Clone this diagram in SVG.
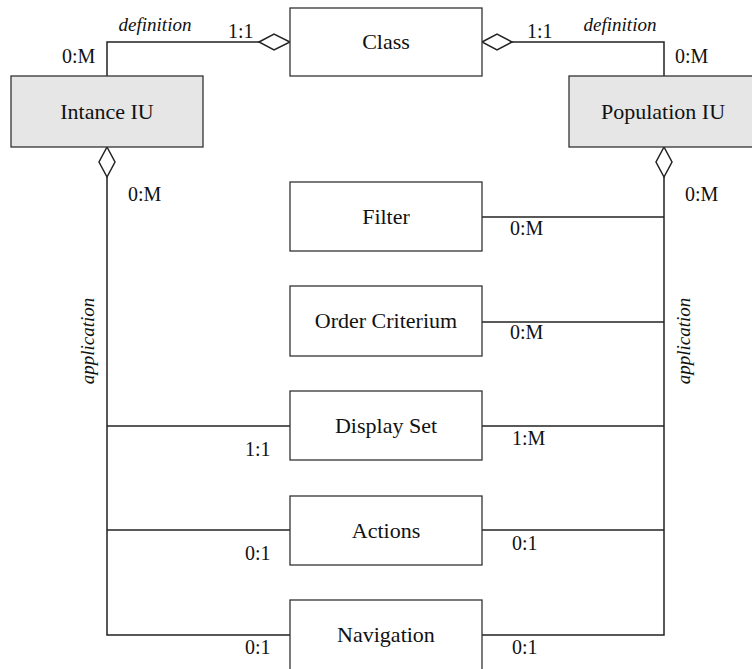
<svg xmlns="http://www.w3.org/2000/svg" width="752" height="669" viewBox="0 0 752 669">
<style>
.box{fill:#fff;stroke:#333;stroke-width:1.3}
.iu{fill:#e6e6e6;stroke:#333;stroke-width:1.3}
.lbl{font-size:22px;fill:#111;text-anchor:middle}
.card{font-size:20px;fill:#111}
.role{font-size:19px;font-style:italic;fill:#111;text-anchor:middle}
.ln{fill:none;stroke:#222;stroke-width:1.5}
.dia{fill:#fff;stroke:#222;stroke-width:1.5}
</style>
<rect width="752" height="669" fill="#fff"/>
<g font-family="Liberation Serif, Tinos, Noto Serif, DejaVu Serif, FreeSerif, Nimbus Roman, Times New Roman, serif">
<g id="connectors">
<polyline class="ln" points="107,76 107,42 259,42"/>
<polygon class="dia" points="259,42 274,34 290,42 274,50"/>
<polyline class="ln" points="664,76 664,42 512,42"/>
<polygon class="dia" points="482,42 497,34 512,42 497,50"/>
<polygon class="dia" points="107,147 115,162 107,177 99,162"/>
<polygon class="dia" points="664,147 672,162 664,177 656,162"/>
<polyline class="ln" points="107,177 107,635 290,635"/>
<polyline class="ln" points="664,177 664,635 482,635"/>
<line class="ln" x1="107" y1="426" x2="290" y2="426"/>
<line class="ln" x1="107" y1="530" x2="290" y2="530"/>
<line class="ln" x1="482" y1="217" x2="664" y2="217"/>
<line class="ln" x1="482" y1="322" x2="664" y2="322"/>
<line class="ln" x1="482" y1="426" x2="664" y2="426"/>
<line class="ln" x1="482" y1="530" x2="664" y2="530"/>
<text class="role" x="155" y="31">definition</text>
<text class="role" x="620" y="31">definition</text>
<text class="card" x="228" y="38">1:1</text>
<text class="card" x="527" y="38">1:1</text>
<text class="card" x="62" y="63">0:M</text>
<text class="card" x="675" y="63">0:M</text>
<text class="card" x="128" y="201">0:M</text>
<text class="card" x="685" y="201">0:M</text>
<text class="card" x="510" y="235">0:M</text>
<text class="card" x="510" y="339">0:M</text>
<text class="card" x="245" y="456">1:1</text>
<text class="card" x="512" y="445">1:M</text>
<text class="card" x="245" y="560">0:1</text>
<text class="card" x="512" y="550">0:1</text>
<text class="card" x="245" y="654">0:1</text>
<text class="card" x="512" y="654">0:1</text>
<text class="role" transform="translate(94,341) rotate(-90)">application</text>
<text class="role" transform="translate(690,341) rotate(-90)">application</text>
</g>
<g id="class"><rect class="box" x="290" y="8" width="192" height="68"/><text class="lbl" x="386" y="49">Class</text></g>
<g id="intance-iu"><rect class="iu" x="11" y="76" width="192" height="71"/><text class="lbl" x="107" y="119">Intance IU</text></g>
<g id="population-iu"><rect class="iu" x="569" y="76" width="192" height="71"/><text class="lbl" x="663" y="119">Population IU</text></g>
<g id="filter"><rect class="box" x="290" y="182" width="192" height="69"/><text class="lbl" x="386" y="224">Filter</text></g>
<g id="order-criterium"><rect class="box" x="290" y="286" width="192" height="70"/><text class="lbl" x="386" y="328">Order Criterium</text></g>
<g id="display-set"><rect class="box" x="290" y="391" width="192" height="69"/><text class="lbl" x="386" y="433">Display Set</text></g>
<g id="actions"><rect class="box" x="290" y="496" width="192" height="69"/><text class="lbl" x="386" y="538">Actions</text></g>
<g id="navigation"><rect class="box" x="290" y="600" width="192" height="75"/><text class="lbl" x="386" y="642">Navigation</text></g>
</g>
</svg>
